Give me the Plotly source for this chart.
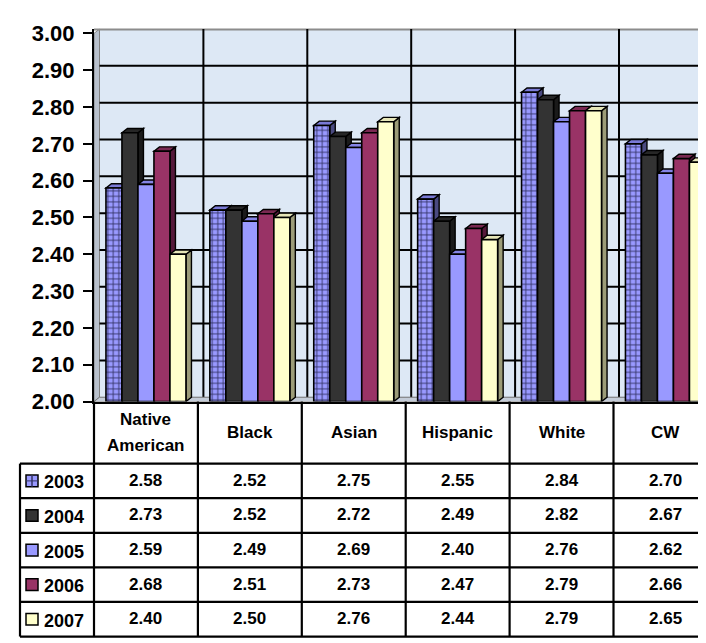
import plotly.graph_objects as go

categories = ["Native American", "Black", "Asian", "Hispanic", "White", "CW"]
cat_labels = ["Native<br>American", "Black", "Asian", "Hispanic", "White", "CW"]
years = ["2003", "2004", "2005", "2006", "2007"]
v2003 = [2.58, 2.52, 2.75, 2.55, 2.84, 2.70]
v2004 = [2.73, 2.52, 2.72, 2.49, 2.82, 2.67]
v2005 = [2.59, 2.49, 2.69, 2.40, 2.76, 2.62]
v2006 = [2.68, 2.51, 2.73, 2.47, 2.79, 2.66]
v2007 = [2.40, 2.50, 2.76, 2.44, 2.79, 2.65]
series = [v2003, v2004, v2005, v2006, v2007]
yticks = [2.0, 2.1, 2.2, 2.3, 2.4, 2.5, 2.6, 2.7, 2.8, 2.9, 3.0]

front = ["#9999ff", "#333333", "#9999ff", "#993366", "#ffffcc"]
tops = ["#7a7ad6", "#262626", "#8585e6", "#7a2952", "#e6e6b8"]
sides = ["#4a4a80", "#1a1a1a", "#5c5c99", "#55183a", "#9c9c78"]

W, H = 706, 643
FONT = "Liberation Sans, Arial, sans-serif"

# pixel geometry of the axes
X_LEFT = 86.0
CAT_W = 103.9
Y_BASE = 399.0
Y_TOP_PX = 14.0
PX_PER_UNIT = 380.0
x_end = -0.5 + (W - X_LEFT) / CAT_W
y_top = 2.0 + (Y_BASE - Y_TOP_PX) / PX_PER_UNIT

DX = 5.5 / CAT_W          # depth offset in category units
DY = 4.5 / PX_PER_UNIT    # depth offset in y units

BARGAP = 0.23
n = len(years)
bw = (1 - BARGAP) / n


def xp(px):
    return px / W


def yp(py):
    return (H - py) / H


fig = go.Figure()

for k, (yr, vals) in enumerate(zip(years, series)):
    marker = dict(color=front[k], line=dict(color="black", width=1.6))
    if k == 0:
        marker["pattern"] = dict(shape="+", fgcolor="#333366", bgcolor="#9999ff",
                                 size=5.5, solidity=0.3, fillmode="replace")
    fig.add_trace(go.Bar(name=yr, x=list(range(len(categories))), y=[v - 2.0 for v in vals],
                         base=2.0, marker=marker, showlegend=False, hoverinfo="skip"))

shapes = []
# back wall
shapes.append(dict(type="rect", xref="x", yref="y", layer="below",
                   x0=-0.5 + DX, x1=x_end + 1, y0=2.0 + DY, y1=3.0 + DY,
                   fillcolor="#dde8f5", line=dict(width=0)))
# left wall
shapes.append(dict(type="path", xref="x", yref="y", layer="below",
                   path=f"M{-0.5},{2.0} L{-0.5 + DX},{2.0 + DY} L{-0.5 + DX},{3.0 + DY} L{-0.5},{3.0} Z",
                   fillcolor="#b8c0cc", line=dict(color="#808080", width=1)))
# top border of back wall
shapes.append(dict(type="line", xref="x", yref="y", layer="below",
                   x0=-0.5, x1=x_end + 1, y0=3.0 + DY, y1=3.0 + DY,
                   line=dict(color="#8c8c8c", width=3)))
# horizontal grid lines on back wall
for t in yticks[1:-1]:
    shapes.append(dict(type="line", xref="x", yref="y", layer="below",
                       x0=-0.5 + DX, x1=x_end + 1, y0=t + DY, y1=t + DY,
                       line=dict(color="black", width=2)))
# vertical grid lines on back wall
for i in range(len(categories)):
    shapes.append(dict(type="line", xref="x", yref="y", layer="below",
                       x0=i + 0.5 + DX, x1=i + 0.5 + DX, y0=2.0 + DY, y1=3.0 + DY,
                       line=dict(color="black", width=2)))
# floor
shapes.append(dict(type="path", xref="x", yref="y", layer="below",
                   path=f"M{-0.5},{2.0} L{x_end + 1},{2.0} L{x_end + 1},{2.0 + DY} L{-0.5 + DX},{2.0 + DY} Z",
                   fillcolor="#c4ccd8", line=dict(color="#707070", width=1)))

# 3D faces of bars
for j in range(len(categories)):
    for k in range(n):
        v = series[k][j]
        left = j - (1 - BARGAP) / 2 + k * bw
        right = left + bw
        shapes.append(dict(type="path", xref="x", yref="y", layer="below",
                           path=(f"M{right},{2.0} L{right},{v} L{right + DX},{v + DY} "
                                 f"L{right + DX},{2.0 + DY} Z"),
                           fillcolor=sides[k], line=dict(color="black", width=1.4)))
        shapes.append(dict(type="path", xref="x", yref="y", layer="below",
                           path=(f"M{left},{v} L{right},{v} L{right + DX},{v + DY} "
                                 f"L{left + DX},{v + DY} Z"),
                           fillcolor=tops[k], line=dict(color="black", width=1.4)))

# ---------- data table ----------
row_h = 35.7
header_top = 399.0
header_bot = 463.0
row_lines = [header_bot + i * row_h for i in range(n + 1)]
TBL_LEFT = 12.0
LINE = dict(color="black", width=2.2)
HDR_LINE_SPACING = 27.0

for py in row_lines:
    shapes.append(dict(type="line", xref="paper", yref="paper",
                       x0=xp(TBL_LEFT), x1=1.0, y0=yp(py), y1=yp(py), line=LINE))
shapes.append(dict(type="line", xref="paper", yref="paper",
                   x0=xp(TBL_LEFT), x1=xp(TBL_LEFT), y0=yp(header_bot), y1=yp(row_lines[-1]), line=LINE))
shapes.append(dict(type="line", xref="paper", yref="paper",
                   x0=xp(X_LEFT), x1=xp(X_LEFT), y0=yp(header_top), y1=yp(row_lines[-1]), line=LINE))
for i in range(len(categories)):
    shapes.append(dict(type="line", xref="x", yref="paper",
                       x0=i + 0.5, x1=i + 0.5, y0=yp(header_top), y1=yp(row_lines[-1]), line=LINE))

annotations = []
hdr_center = (header_top + header_bot) / 2
for i, lab in enumerate(cat_labels):
    lines = lab.split("<br>")
    first = hdr_center - HDR_LINE_SPACING * (len(lines) - 1) / 2
    for li, line in enumerate(lines):
        annotations.append(dict(xref="x", yref="paper", x=i, y=yp(first + li * HDR_LINE_SPACING),
                                xanchor="center", yanchor="middle",
                                text=f"<b>{line}</b>", showarrow=False,
                                font=dict(family=FONT, size=17, color="black")))
for k in range(n):
    cy = row_lines[k] + row_h / 2
    annotations.append(dict(xref="paper", yref="paper", x=xp(34), y=yp(cy + 1.5),
                            xanchor="left", yanchor="middle",
                            text=f"<b>{years[k]}</b>", showarrow=False,
                            font=dict(family=FONT, size=18, color="black")))
    for j in range(len(categories)):
        annotations.append(dict(xref="x", yref="paper", x=j, y=yp(cy - 0.5),
                                xanchor="center", yanchor="middle",
                                text=f"<b>{series[k][j]:.2f}</b>", showarrow=False,
                                font=dict(family=FONT, size=17, color="black")))
    # legend key
    kx0, kx1 = 18, 30
    ky0, ky1 = cy - 6, cy + 6
    shapes.append(dict(type="rect", xref="paper", yref="paper",
                       x0=xp(kx0), x1=xp(kx1), y0=yp(ky1), y1=yp(ky0),
                       fillcolor=front[k], line=dict(color="black", width=1.5)))
    if k == 0:
        shapes.append(dict(type="line", xref="paper", yref="paper",
                           x0=xp((kx0 + kx1) / 2), x1=xp((kx0 + kx1) / 2), y0=yp(ky1), y1=yp(ky0),
                           line=dict(color="#333366", width=1.5)))
        shapes.append(dict(type="line", xref="paper", yref="paper",
                           x0=xp(kx0), x1=xp(kx1), y0=yp(cy), y1=yp(cy),
                           line=dict(color="#333366", width=1.0)))

fig.update_layout(
    width=W, height=H,
    margin=dict(l=0, r=0, t=0, b=0),
    paper_bgcolor="white",
    plot_bgcolor="white",
    barmode="group",
    bargap=BARGAP,
    bargroupgap=0,
    shapes=shapes,
    annotations=annotations,
    xaxis=dict(domain=[xp(X_LEFT), 1.0], range=[-0.5, x_end], showgrid=False,
               showticklabels=False, ticks="", showline=True, linecolor="black", linewidth=2,
               zeroline=False, fixedrange=True),
    yaxis=dict(domain=[yp(Y_BASE), yp(Y_TOP_PX)], range=[2.0, y_top], showgrid=False,
               zeroline=False, tickvals=yticks, ticktext=[f"<b>{t:.2f}</b>" for t in yticks],
               ticks="outside", ticklen=9, tickwidth=2, tickcolor="black",
               showline=True, linecolor="black", linewidth=2, ticklabelstandoff=4,
               tickfont=dict(family=FONT, size=22, color="black"), fixedrange=True),
    font=dict(family=FONT, color="black"),
)

fig.write_html("out.html")
